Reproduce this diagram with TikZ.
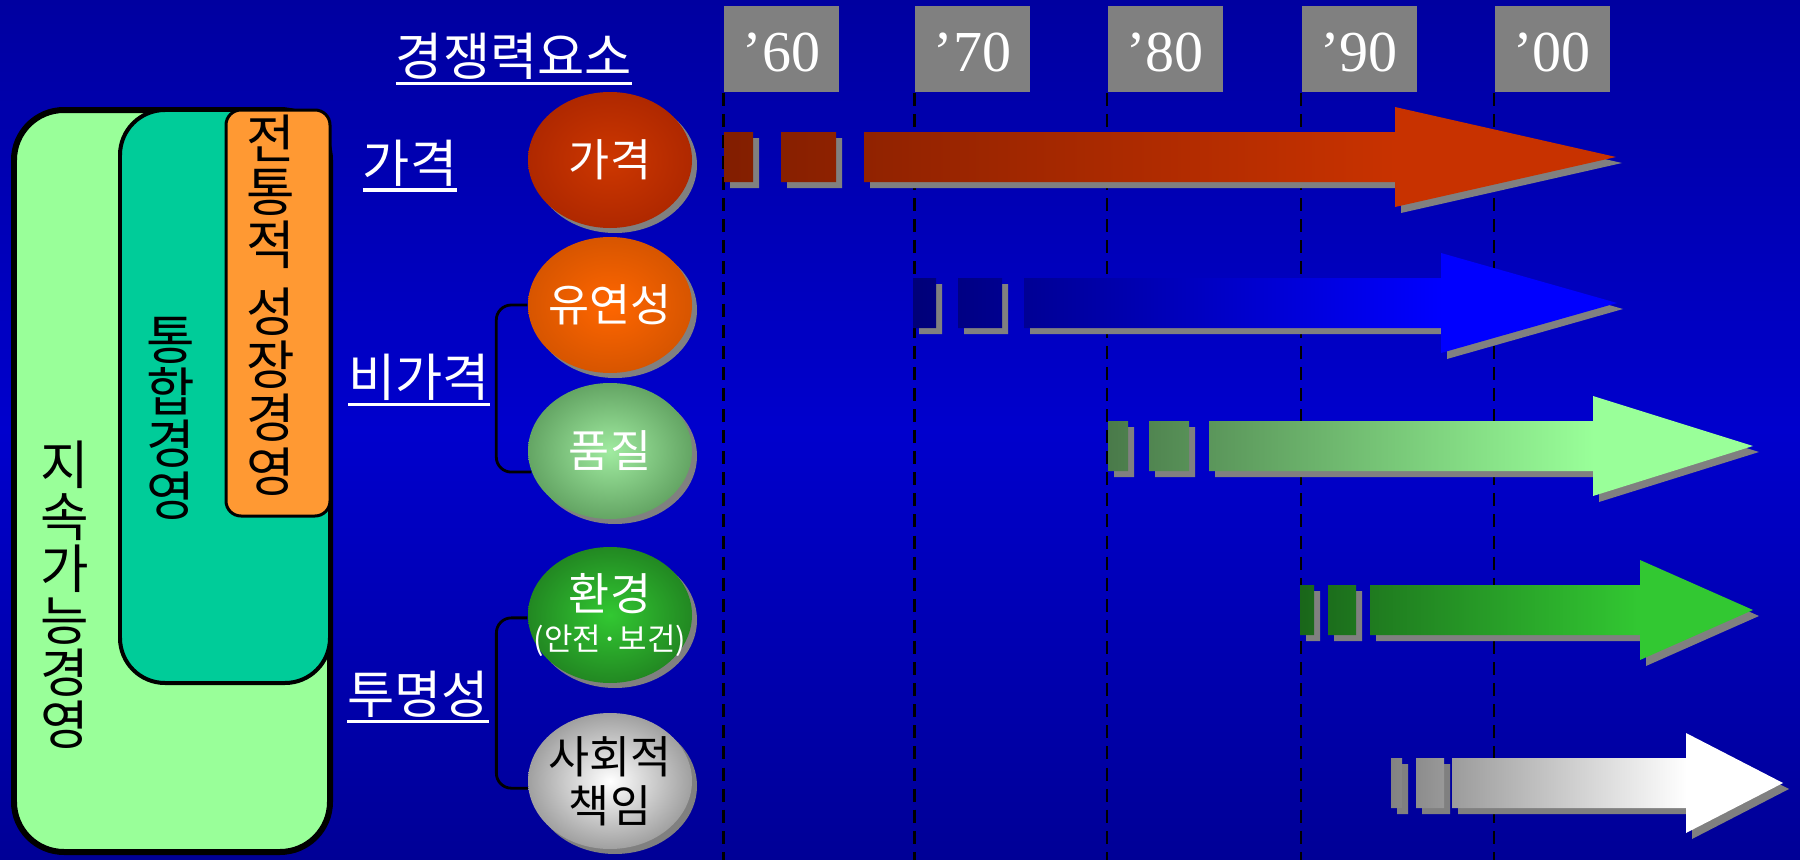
\documentclass[tikz,border=0pt]{standalone}
\usepackage{fontspec}
\setmainfont{Liberation Serif}
\newfontfamily\krfont{Noto Sans CJK KR}
\newcommand{\thickul}[1]{\vtop{\hbox{#1}\kern0.5pt\hrule height 0.9pt}}
\usetikzlibrary{shapes.geometric,shadows}

\definecolor{bgtop}{RGB}{0,0,160}
\definecolor{bgmid}{RGB}{0,0,205}
\definecolor{bgbot}{RGB}{0,0,150}
\definecolor{outergreen}{RGB}{153,255,153}
\definecolor{midgreen}{RGB}{0,204,153}
\definecolor{orangebox}{RGB}{255,153,51}
\definecolor{redA}{RGB}{130,30,0}
\definecolor{redB}{RGB}{200,50,0}
\definecolor{blueA}{RGB}{0,0,120}
\definecolor{blueB}{RGB}{0,0,255}
\definecolor{lgreenA}{RGB}{74,122,74}
\definecolor{lgreenB}{RGB}{153,255,153}
\definecolor{greenA}{RGB}{26,102,26}
\definecolor{greenB}{RGB}{50,200,50}
\definecolor{greyA}{RGB}{130,130,130}

\begin{document}
\begin{tikzpicture}[
    ball/.style={ellipse, minimum width=1.64cm, minimum height=1.36cm, inner sep=-0.15cm, align=center,
      text=white, font=\krfont\fontsize{12.7}{14}\selectfont,
      drop shadow={shadow xshift=0.05cm, shadow yshift=-0.05cm, fill=gray, opacity=1}},
    yearbox/.style={fill=gray, minimum width=1.15cm, minimum height=0.86cm, text=white,
      text height=0.45cm, text depth=0pt, font=\fontsize{16.5}{16.5}\selectfont},
    lbl/.style={text=white, font=\krfont\fontsize{14.6}{15}\selectfont},
    vtext/.style={align=center, inner sep=0pt, font=\krfont\fontsize{15}{14.8}\selectfont},
    dashes/.style={line width=0.7pt, dash pattern=on 3.7pt off 2.3pt}]
  \useasboundingbox (0,0) rectangle (18,-8.6);
  \shade[top color=bgtop, bottom color=bgbot, middle color=bgmid] (0,0) rectangle (18,-8.6);
  \coordinate (bot) at (0,-8.6);

  % management boxes
  \node[draw, line width=0.06cm, fill=outergreen, rounded corners=0.5cm, minimum width=3.16cm, minimum height=7.42cm] (b1) at (1.72,-4.81) {};
  \node[draw, line width=0.04cm, fill=midgreen, rounded corners=0.45cm, minimum width=2.10cm, minimum height=5.73cm] (b2) at (2.25,-3.965) {};
  \node[draw, line width=0.03cm, fill=orangebox, rounded corners=0.15cm, minimum width=1.04cm, minimum height=4.06cm] (b3) at (2.78,-3.13) {};
  \node[vtext] (t1) at (0.65,-5.95) {지\\속\\가\\능\\경\\영};
  \node[vtext] (t2) at (1.71,-4.18) {통\\합\\경\\영};
  \node[vtext, font=\krfont\fontsize{15}{15.1}\selectfont] (t3) at (2.71,-3.05) {전\\통\\적\\[4pt]성\\장\\경\\영};

  % labels
  \node[lbl] (l0) at (5.14,-0.59) {\thickul{경쟁력요소}};
  \node[lbl] (l1) at (4.10,-1.66) {\thickul{가격}};
  \node[lbl] (l2) at (4.19,-3.80) {\thickul{비가격}};
  \node[lbl] (l3) at (4.18,-6.97) {\thickul{투명성}};

  % years
  \node[yearbox] (y1) at (7.815,-0.49) {'60};
  \node[yearbox] (y2) at (9.725,-0.49) {'70};
  \node[yearbox] (y3) at (11.65,-0.49) {'80};
  \node[yearbox] (y4) at (13.59,-0.49) {'90};
  \node[yearbox] (y5) at (15.52,-0.49) {'00};
  \draw[dashes] (y1.south west) -- (y1.south west |- bot);
  \draw[dashes] (y2.south west) -- (y2.south west |- bot);
  \draw[dashes] (y3.south west) -- (y3.south west |- bot);
  \draw[dashes] (y4.south west) -- (y4.south west |- bot);
  \draw[dashes] (y5.south west) -- (y5.south west |- bot);

  % factors
  \node[ball, inner color={rgb,255:red,205;green,55;blue,0}, outer color={rgb,255:red,175;green,40;blue,0}] (c1) at (6.10,-1.60) {가격};
  \node[ball, inner color={rgb,255:red,255;green,102;blue,0}, outer color={rgb,255:red,215;green,85;blue,0}] (c2) at (6.10,-3.05) {유연성};
  \node[ball, inner color={rgb,255:red,160;green,235;blue,160}, outer color={rgb,255:red,100;green,165;blue,100}] (c3) at (6.10,-4.51) {품질};
  \node[ball, inner sep=-0.3cm, inner color={rgb,255:red,50;green,200;blue,50}, outer color={rgb,255:red,34;green,136;blue,34}] (c4) at (6.10,-6.15) {환경\\[-2.5pt]{\fontsize{8.8}{9.5}\selectfont(안전·보건)}};
  \node[ball, inner color=white, outer color={rgb,255:red,160;green,160;blue,160}, text=black] (c5) at (6.10,-7.81) {사회적\\책임};
  \draw[thick, rounded corners=0.15cm] (c2.west) -- ++(-0.31,0) |- (c3.195);
  \draw[thick, rounded corners=0.15cm] (c4.182) -- ++(-0.31,0) |- (c5.185);

  % trend arrows
  \fill[gray, xshift=0.06cm, yshift=-0.06cm] (7.24,-1.32) rectangle (7.53,-1.82) (7.81,-1.32) rectangle (8.36,-1.82) (8.64,-1.32) -- (13.95,-1.32) -- (13.95,-1.07) -- (16.16,-1.57) -- (13.95,-2.07) -- (13.95,-1.82) -- (8.64,-1.82) -- cycle;
  \shade[left color=redA, right color=redB] (7.24,-1.32) rectangle (7.53,-1.82) (7.81,-1.32) rectangle (8.36,-1.82) (8.64,-1.32) rectangle (13.96,-1.82);
  \fill[redB] (13.95,-1.07) -- (16.16,-1.57) -- (13.95,-2.07) -- cycle;

  \fill[gray, xshift=0.06cm, yshift=-0.06cm] (9.13,-2.78) rectangle (9.36,-3.28) (9.58,-2.78) rectangle (10.02,-3.28) (10.24,-2.78) -- (14.41,-2.78) -- (14.41,-2.53) -- (16.17,-3.03) -- (14.41,-3.53) -- (14.41,-3.28) -- (10.24,-3.28) -- cycle;
  \shade[left color=blueA, right color=blueB] (9.13,-2.78) rectangle (9.36,-3.28) (9.58,-2.78) rectangle (10.02,-3.28) (10.24,-2.78) rectangle (14.42,-3.28);
  \fill[blueB] (14.41,-2.53) -- (16.17,-3.03) -- (14.41,-3.53) -- cycle;

  \fill[gray, xshift=0.06cm, yshift=-0.06cm] (11.08,-4.21) rectangle (11.28,-4.71) (11.49,-4.21) rectangle (11.89,-4.71) (12.09,-4.21) -- (15.93,-4.21) -- (15.93,-3.96) -- (17.53,-4.46) -- (15.93,-4.96) -- (15.93,-4.71) -- (12.09,-4.71) -- cycle;
  \shade[left color=lgreenA, right color=lgreenB] (11.08,-4.21) rectangle (11.28,-4.71) (11.49,-4.21) rectangle (11.89,-4.71) (12.09,-4.21) rectangle (15.94,-4.71);
  \fill[lgreenB] (15.93,-3.96) -- (17.53,-4.46) -- (15.93,-4.96) -- cycle;

  \fill[gray, xshift=0.06cm, yshift=-0.06cm] (13.00,-5.85) rectangle (13.14,-6.35) (13.28,-5.85) rectangle (13.56,-6.35) (13.70,-5.85) -- (16.40,-5.85) -- (16.40,-5.60) -- (17.53,-6.10) -- (16.40,-6.60) -- (16.40,-6.35) -- (13.70,-6.35) -- cycle;
  \shade[left color=greenA, right color=greenB] (13.00,-5.85) rectangle (13.14,-6.35) (13.28,-5.85) rectangle (13.56,-6.35) (13.70,-5.85) rectangle (16.41,-6.35);
  \fill[greenB] (16.40,-5.60) -- (17.53,-6.10) -- (16.40,-6.60) -- cycle;

  \fill[gray, xshift=0.06cm, yshift=-0.06cm] (13.91,-7.58) rectangle (14.02,-8.08) (14.16,-7.58) rectangle (14.44,-8.08) (14.52,-7.58) -- (16.86,-7.58) -- (16.86,-7.33) -- (17.83,-7.83) -- (16.86,-8.33) -- (16.86,-8.08) -- (14.52,-8.08) -- cycle;
  \shade[left color=greyA, right color=white] (13.91,-7.58) rectangle (14.02,-8.08) (14.16,-7.58) rectangle (14.44,-8.08) (14.52,-7.58) rectangle (16.87,-8.08);
  \fill[white] (16.86,-7.33) -- (17.83,-7.83) -- (16.86,-8.33) -- cycle;
\end{tikzpicture}
\end{document}
